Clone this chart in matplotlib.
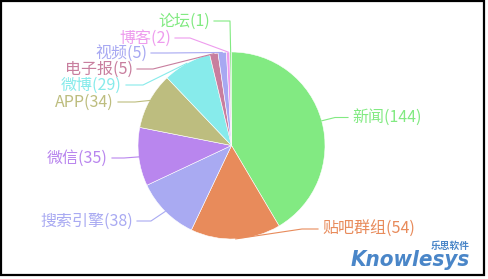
import matplotlib
matplotlib.use("Agg")
import matplotlib.pyplot as plt
import numpy as np
from matplotlib.patches import Rectangle

plt.rcParams['font.family'] = ['Noto Sans CJK SC', 'DejaVu Sans']

# ---- data ----
categories = ["新闻", "贴吧群组", "搜索引擎", "微信", "APP", "微博", "电子报", "视频", "博客", "论坛"]
values = [144, 54, 38, 35, 34, 29, 5, 5, 2, 1]
colors = ["#82ea82", "#e88b5b", "#a9aaf2", "#b986ee", "#bdbd7f", "#87ebeb",
          "#c87e9e", "#a7a8f2", "#ee9cee", "#82ea82"]

# ---- layout (pixel coordinates, y measured from top) ----
W, H = 488, 279
center_px = (231.5, 145.5)
radius = 93.5
# elbow point of each leader line and end x of the horizontal segment
elbows = [(335, 117.5), (302, 229), (151, 221), (124, 158), (135, 102),
          (143, 85), (153, 69), (167, 53), (190, 38), (230, 21)]
line_ends = [348, 318, 137, 112, 118, 126, 137, 151, 175, 214]

fig = plt.figure(figsize=(W / 100, H / 100), dpi=100)
ax = fig.add_axes([0, 0, 1, 1])

cx, cy = center_px[0], H - center_px[1]
wedges, _ = ax.pie(values, colors=colors, startangle=90, counterclock=False,
                   center=(cx, cy), radius=radius,
                   wedgeprops=dict(edgecolor="white", linewidth=0.4))
ax.set_xlim(0, W)
ax.set_ylim(0, H)
ax.set_aspect('equal')
ax.axis('off')

total = sum(values)
cum = 0
for i, (cat, v) in enumerate(zip(categories, values)):
    mid = (cum + v / 2) / total * 2 * np.pi
    cum += v
    ax_ = cx + radius * np.sin(mid)
    ay_ = cy + radius * np.cos(mid)
    ex, ey = elbows[i][0], H - elbows[i][1]
    lx = line_ends[i]
    ax.plot([ax_, ex, lx], [ay_, ey, ey], color=colors[i], lw=0.8, zorder=1,
            solid_joinstyle='round')
    right = lx > ex
    ax.text(lx + (4 if right else -4), ey, f"{cat}({v})", color=colors[i],
            fontsize=11.5, ha='left' if right else 'right', va='center')

# border
ax.add_patch(Rectangle((1, H - 275), 483, 274, fill=False, edgecolor='black',
                       lw=1.6, zorder=5))

# watermark
ax.text(470, H - 260, "Knowlesys", color="#4a86c8", fontsize=16,
        fontweight='bold', style='italic', fontstretch='condensed',
        ha='right', va='center', family='DejaVu Sans')
ax.text(470, H - 246, "乐思软件", color="#4a86c8", fontsize=7,
        fontweight='bold', ha='right', va='center')

fig.savefig("out.png", dpi=100)
